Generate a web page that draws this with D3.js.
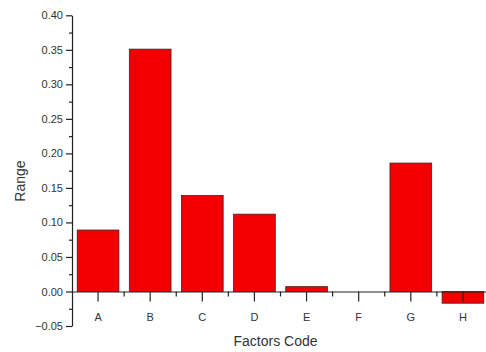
<!DOCTYPE html>
<html>
<head>
<meta charset="utf-8">
<script src="https://cdn.jsdelivr.net/npm/d3@7"></script>
<style>
  html, body { margin: 0; padding: 0; background: #fff; }
  svg { display: block; }
  text { font-family: Arial, "Liberation Sans", sans-serif; }
</style>
</head>
<body>
<svg id="chart" width="486" height="352"></svg>
<script>
// Range of each factor
const categories = ["A", "B", "C", "D", "E", "F", "G", "H"];
const rangeValues = [0.089, 0.351, 0.139, 0.112, 0.007, 0.0, 0.186, -0.017];
const yTickValues = [-0.05, 0.00, 0.05, 0.10, 0.15, 0.20, 0.25, 0.30, 0.35, 0.40];
const yMinorValues = [-0.025, 0.025, 0.075, 0.125, 0.175, 0.225, 0.275, 0.325, 0.375];

const svg = d3.select("#chart");
const plotLeft = 72, plotRight = 489, plotTop = 15.3, plotBottom = 326;

const x = d3.scaleBand().domain(categories).range([plotLeft, plotRight]).paddingInner(0.2).paddingOuter(0.1);
const y = d3.scaleLinear().domain([-0.05, 0.40]).range([plotBottom, plotTop]);

const textColor = "#333";
const lineColor = "#222";

// Bars
svg.append("g").selectAll("rect")
  .data(categories.map((c, i) => ({ c, v: rangeValues[i] })))
  .join("rect")
  .attr("x", d => x(d.c))
  .attr("width", x.bandwidth())
  .attr("y", d => y(Math.max(0, d.v)))
  .attr("height", d => Math.abs(y(d.v) - y(0)))
  .attr("fill", "#f20000")
  .attr("stroke", "#4a2020")
  .attr("stroke-width", 0.8);

// Y axis with major ticks and labels
const yAxis = svg.append("g")
  .attr("transform", `translate(${plotLeft},0)`)
  .call(d3.axisLeft(y).tickValues(yTickValues).tickSize(6).tickSizeOuter(0)
    .tickFormat(d3.format(".2f")).tickPadding(3));
yAxis.selectAll("text").attr("font-size", 11).attr("fill", textColor)
  .attr("font-family", "Arial, 'Liberation Sans', sans-serif");
yAxis.selectAll("line, path").attr("stroke", lineColor).attr("stroke-width", 1.2);

// Y minor ticks
svg.append("g")
  .attr("transform", `translate(${plotLeft},0)`)
  .call(d3.axisLeft(y).tickValues(yMinorValues).tickSize(3).tickFormat(""))
  .call(g => g.select(".domain").remove())
  .selectAll("line").attr("stroke", lineColor).attr("stroke-width", 1.2);

// X axis along the zero line
const xAxis = svg.append("g")
  .attr("transform", `translate(0,${y(0)})`)
  .call(d3.axisBottom(x).tickSize(10).tickSizeOuter(0).tickPadding(12));
xAxis.selectAll("text").attr("font-size", 11).attr("fill", textColor)
  .attr("font-family", "Arial, 'Liberation Sans', sans-serif");
xAxis.selectAll("line, path").attr("stroke", lineColor).attr("stroke-width", 1.2);

// X minor ticks between categories
const boundaries = categories.slice(1).map(c => x(c) - x.step() * x.paddingInner() / 2);
svg.append("g").selectAll("line")
  .data(boundaries)
  .join("line")
  .attr("x1", d => d).attr("x2", d => d)
  .attr("y1", y(0)).attr("y2", y(0) + 5)
  .attr("stroke", lineColor).attr("stroke-width", 1.2);

// Axis titles
svg.append("text")
  .attr("x", (plotLeft + plotRight) / 2 - 5)
  .attr("y", 346)
  .attr("text-anchor", "middle")
  .attr("font-size", 14)
  .attr("fill", textColor)
  .text("Factors Code");

svg.append("text")
  .attr("transform", `translate(25,181) rotate(-90)`)
  .attr("text-anchor", "middle")
  .attr("font-size", 14)
  .attr("fill", textColor)
  .text("Range");
</script>
</body>
</html>
